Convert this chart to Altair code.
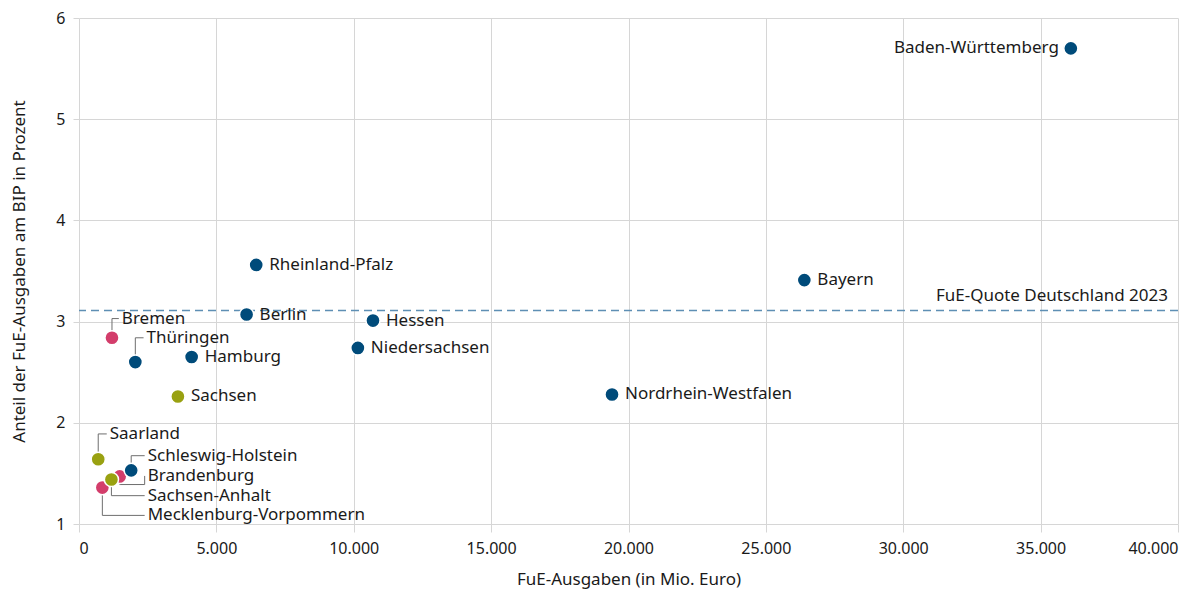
import altair as alt
import pandas as pd

# ---- data ----
states = ["Baden-Württemberg", "Bayern", "Rheinland-Pfalz", "Berlin", "Hessen",
          "Niedersachsen", "Hamburg", "Thüringen", "Bremen", "Sachsen",
          "Nordrhein-Westfalen", "Saarland", "Brandenburg", "Mecklenburg-Vorpommern",
          "Schleswig-Holstein", "Sachsen-Anhalt"]
spending = [36100, 26400, 6450, 6100, 10700,
            10150, 4100, 2050, 1200, 3600,
            19400, 700, 1480, 850,
            1900, 1180]
share = [5.70, 3.41, 3.56, 3.07, 3.01,
         2.74, 2.65, 2.60, 2.84, 2.26,
         2.28, 1.64, 1.47, 1.36,
         1.53, 1.44]
groups = ["West", "West", "West", "West", "West",
          "West", "West", "West", "Stadt", "Ost",
          "West", "Ost", "Stadt", "Stadt",
          "West", "Ost"]
group_names = ["West", "Stadt", "Ost"]
group_colors = ["#004B7A", "#D33D6B", "#99A111"]

reference_value = [3.11]
reference_label = ["FuE-Quote Deutschland 2023"]

# leader-line label anchors (data units): state -> (label x, label y, bend y)
leaders = {
    "Bremen": (1450, 3.03, 3.03),
    "Thüringen": (2350, 2.84, 2.84),
    "Saarland": (1010, 1.89, 1.89),
    "Schleswig-Holstein": (2390, 1.675, 1.675),
    "Brandenburg": (2390, 1.475, 1.39),
    "Sachsen-Anhalt": (2390, 1.28, 1.28),
    "Mecklenburg-Vorpommern": (2390, 1.085, 1.085),
}
left_labels = ["Baden-Württemberg"]

# ---- tables ----
df = pd.DataFrame({"state": states, "x": spending, "y": share, "group": groups})
df["order"] = range(len(df))

plain = df[~df.state.isin(list(leaders)) & ~df.state.isin(left_labels)]
left = df[df.state.isin(left_labels)]

rows, lab = [], []
for s, (lx, ly, bend) in leaders.items():
    r = df[df.state == s].iloc[0]
    pts = [(r.x, r.y), (r.x, bend), (lx, bend), (lx, ly)]
    for i, (a, b) in enumerate(pts):
        rows.append({"state": s, "seq": i, "x": a, "y": b})
    lab.append({"state": s, "x": lx, "y": ly})
lead_df = pd.DataFrame(rows)
lab_df = pd.DataFrame(lab)

xs = alt.Scale(domain=[0, 40000], nice=False)
ys = alt.Scale(domain=[1, 6], nice=False)
FONT = "Noto Sans"
TXT = "#1a1a1a"
LBL = 17

base_x = alt.X("x:Q", scale=xs, title="FuE-Ausgaben (in Mio. Euro)",
               axis=alt.Axis(values=list(range(0, 40001, 5000)),
                             labelExpr="replace(format(datum.value, ','), ',', '.')",
                             labelFlush=True, tickSize=8, labelPadding=8,
                             titlePadding=15))
base_y = alt.Y("y:Q", scale=ys, title="Anteil der FuE-Ausgaben am BIP in Prozent",
               axis=alt.Axis(values=[1, 2, 3, 4, 5, 6], format="d", tickSize=6,
                             labelPadding=8, titlePadding=27))

points = alt.Chart(df).mark_circle(size=200, opacity=1, stroke="white",
                                   strokeWidth=1.5).encode(
    x=base_x, y=base_y,
    color=alt.Color("group:N", scale=alt.Scale(domain=group_names, range=group_colors),
                    legend=None),
    order=alt.Order("order:Q"),
)

ref = alt.Chart(pd.DataFrame({"y": reference_value})).mark_rule(
    strokeDash=[8, 5], color="#5E8FB4", strokeWidth=1.5).encode(y=alt.Y("y:Q", scale=ys))

ref_text = alt.Chart(pd.DataFrame({"y": reference_value, "x": [40000],
                                   "t": reference_label})).mark_text(
    align="right", baseline="middle", dx=-10, dy=-14, font=FONT, fontSize=LBL,
    color=TXT).encode(x=alt.X("x:Q", scale=xs), y=alt.Y("y:Q", scale=ys), text="t:N")

lines = alt.Chart(lead_df).mark_line(color="#6e6e6e", strokeWidth=1).encode(
    x=alt.X("x:Q", scale=xs), y=alt.Y("y:Q", scale=ys),
    detail="state:N", order="seq:Q")

txt_right = alt.Chart(plain).mark_text(align="left", baseline="middle", dx=13,
                                       font=FONT, fontSize=LBL, color=TXT).encode(
    x=alt.X("x:Q", scale=xs), y=alt.Y("y:Q", scale=ys), text="state:N")
txt_left = alt.Chart(left).mark_text(align="right", baseline="middle", dx=-12,
                                     font=FONT, fontSize=LBL, color=TXT).encode(
    x=alt.X("x:Q", scale=xs), y=alt.Y("y:Q", scale=ys), text="state:N")
txt_lead = alt.Chart(lab_df).mark_text(align="left", baseline="middle", dx=3,
                                       font=FONT, fontSize=LBL, color=TXT).encode(
    x=alt.X("x:Q", scale=xs), y=alt.Y("y:Q", scale=ys), text="state:N")

chart = alt.layer(ref, lines, points, ref_text, txt_right, txt_left, txt_lead).properties(
    width=1099, height=506,
    autosize=alt.AutoSizeParams(type="none"),
    padding={"left": 71, "top": 10, "right": 3, "bottom": 67},
).configure_view(stroke=None).configure_axis(
    gridColor="#d6d6d6", gridWidth=1, domain=False, tickColor="#d6d6d6",
    labelFont=FONT, titleFont=FONT, labelFontSize=16, titleFontSize=17,
    labelColor=TXT, titleColor=TXT, titleFontWeight="normal",
)

chart.save("out.html", embed_options={"renderer": "svg", "actions": False})
